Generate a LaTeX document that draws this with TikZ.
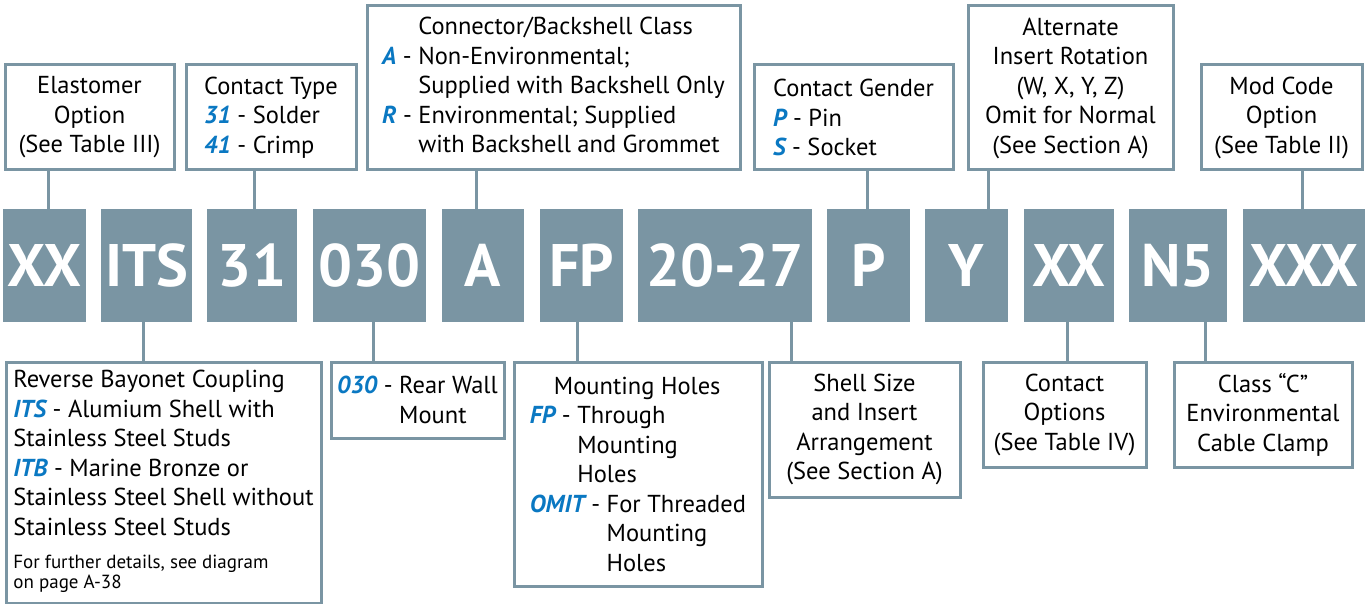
\documentclass[tikz,border=0pt]{standalone}
\usepackage{fontspec}
\setmainfont{PT Sans}
\usepackage{xcolor}
\usetikzlibrary{positioning}

\definecolor{slate}{HTML}{7A95A3}
\definecolor{codeblue}{HTML}{0A78C2}
\newcommand{\code}[1]{\textcolor{codeblue}{\bfseries\itshape #1}}

\begin{document}
\begin{tikzpicture}[
    x=1pt, y=-1pt,
    part/.style={fill=slate, text=white, inner sep=0pt, minimum height=113pt, font=\fontsize{60}{60}\selectfont\bfseries},
    info/.style={draw=slate, line width=3pt, fill=white, inner sep=0pt, align=center, font=\fontsize{24.5}{29.5}\selectfont},
    link/.style={draw=slate, line width=3pt}
]
\useasboundingbox (0,0) rectangle (1365,604);

% Part number blocks
\node (xxa) [part, minimum width=83pt] at (44.5,265.5) {XX};
\node (its) [part, minimum width=91pt] at (146.5,265.5) {ITS};
\node (ctype) [part, minimum width=90pt] at (252,265.5) {31};
\node (mount) [part, minimum width=113pt] at (369.5,265.5) {030};
\node (cls) [part, minimum width=82pt] at (483,265.5) {A};
\node (holes) [part, minimum width=83pt] at (581.5,265.5) {FP};
\node (shell) [part, minimum width=174pt] at (725,265.5) {20-27};
\node (gender) [part, minimum width=83pt] at (868.5,265.5) {P};
\node (rot) [part, minimum width=83pt] at (966.5,265.5) {Y};
\node (xxb) [part, minimum width=90pt] at (1069,265.5) {XX};
\node (clamp) [part, minimum width=98pt] at (1178,265.5) {N5};
\node (mod) [part, minimum width=122pt] at (1304,265.5) {XXX};

% Upper boxes
\node (elastbox) [info, minimum width=169pt, minimum height=105pt] at (89.5,117.5)
    {Elastomer\\Option\\(See Table III)};
\node (ctypebox) [info, align=left, minimum width=170pt, minimum height=105pt] at (271,117.5)
    {Contact Type\\\code{31} - Solder\\\code{41} - Crimp};
\node (clsbox) [info, minimum width=373pt, minimum height=164pt] at (553.5,88)
    {\begin{tabular}{@{}l@{\ }l@{}}
     & Connector/Backshell Class\\
     \code{A} - & Non-Environmental;\\
     & Supplied with Backshell Only\\
     \code{R} - & Environmental; Supplied\\
     & with Backshell and Grommet
     \end{tabular}};
\node (genderbox) [info, align=left, minimum width=199pt, minimum height=105pt] at (853.5,117.5)
    {Contact Gender\\\code{P} - Pin\\\code{S} - Socket};
\node (rotbox) [info, minimum width=205pt, minimum height=164pt] at (1070.5,88)
    {Alternate\\Insert Rotation\\(W, X, Y, Z)\\Omit for Normal\\(See Section A)};
\node (modbox) [info, minimum width=161pt, minimum height=105pt] at (1281.5,117.5)
    {Mod Code\\Option\\(See Table II)};

% Lower boxes
\node (itsbox) [info, align=left, minimum width=315pt, minimum height=241pt] at (163.5,482.5)
    {Reverse Bayonet Coupling\\
     \code{ITS} - Alumium Shell with\\
     Stainless Steel Studs\\
     \code{ITB} - Marine Bronze or\\
     Stainless Steel Shell without\\
     Stainless Steel Studs\\[3.5pt]
     \fontsize{19}{20}\selectfont\begin{tabular}[t]{@{}l@{}}For further details, see diagram\\on page A-38\end{tabular}};
\node (mountbox) [info, align=left, minimum width=173pt, minimum height=76pt] at (417.5,400)
    {\code{030} - Rear Wall\\\phantom{\code{030} - }Mount};
\node (holesbox) [info, align=left, minimum width=248pt, minimum height=224pt] at (638,474)
    {\hspace*{24pt}Mounting Holes\\
     \code{FP} - Through\\
     \phantom{\code{FP} - }Mounting\\
     \phantom{\code{FP} - }Holes\\
     \code{OMIT} - For Threaded\\
     \phantom{\code{OMIT} - }Mounting\\
     \phantom{\code{OMIT} - }Holes};
\node (shellbox) [info, minimum width=191pt, minimum height=135pt] at (864.5,429.5)
    {Shell Size\\and Insert\\Arrangement\\(See Section A)};
\node (xxbbox) [info, minimum width=163pt, minimum height=105pt] at (1064.5,414.5)
    {Contact\\Options\\(See Table IV)};
\node (clampbox) [info, minimum width=178pt, minimum height=105pt] at (1263,414.5)
    {Class “C”\\Environmental\\Cable Clamp};

% Links up
\draw[link] ([xshift=3.5pt]xxa.north) -- ([xshift=3.5pt]xxa.north |- elastbox.south);
\draw[link] ([xshift=2pt]ctype.north) -- ([xshift=2pt]ctype.north |- ctypebox.south);
\draw[link] ([xshift=-7pt]cls.north) -- ([xshift=-7pt]cls.north |- clsbox.south);
\draw[link] ([xshift=-1.5pt]gender.north) -- ([xshift=-1.5pt]gender.north |- genderbox.south);
\draw[link] ([xshift=21.5pt]rot.north) -- ([xshift=21.5pt]rot.north |- rotbox.south);
\draw[link] ([xshift=-2pt]mod.north) -- ([xshift=-2pt]mod.north |- modbox.south);

% Links down
\draw[link] ([xshift=-3.5pt]its.south) -- ([xshift=-3.5pt]its.south |- itsbox.north);
\draw[link] ([xshift=3.5pt]mount.south) -- ([xshift=3.5pt]mount.south |- mountbox.north);
\draw[link] ([xshift=-4.5pt]holes.south) -- ([xshift=-4.5pt]holes.south |- holesbox.north);
\draw[link] ([xshift=66pt]shell.south) -- ([xshift=66pt]shell.south |- shellbox.north);
\draw[link] ([xshift=-2pt]xxb.south) -- ([xshift=-2pt]xxb.south |- xxbbox.north);
\draw[link] ([xshift=27pt]clamp.south) -- ([xshift=27pt]clamp.south |- clampbox.north);

\end{tikzpicture}
\end{document}
